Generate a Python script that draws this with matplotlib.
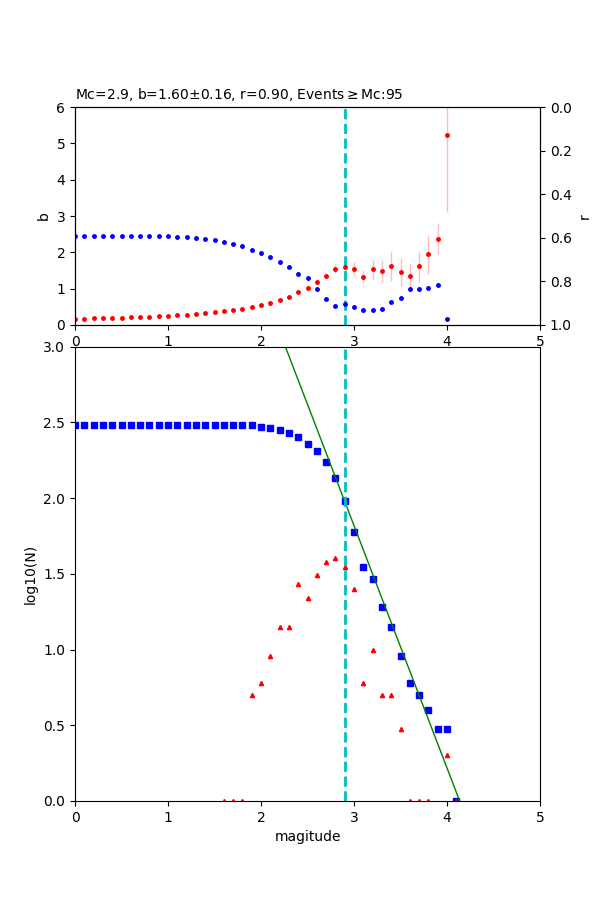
import numpy as np
import matplotlib
matplotlib.use("Agg")
import matplotlib.pyplot as plt

# magnitude bins used in the b / r scan (top panel)
mags_scan = [0.0, 0.1, 0.2, 0.3, 0.4, 0.5, 0.6, 0.7, 0.8, 0.9,
             1.0, 1.1, 1.2, 1.3, 1.4, 1.5, 1.6, 1.7, 1.8, 1.9,
             2.0, 2.1, 2.2, 2.3, 2.4, 2.5, 2.6, 2.7, 2.8, 2.9,
             3.0, 3.1, 3.2, 3.3, 3.4, 3.5, 3.6, 3.7, 3.8, 3.9, 4.0]

# b-value at each trial Mc
b_vals = [0.17, 0.17, 0.19, 0.19, 0.19, 0.19, 0.22, 0.22, 0.22, 0.25,
          0.25, 0.28, 0.28, 0.30, 0.33, 0.36, 0.39, 0.42, 0.44, 0.50,
          0.55, 0.61, 0.69, 0.78, 0.91, 1.02, 1.19, 1.36, 1.55, 1.60,
          1.54, 1.32, 1.54, 1.49, 1.61, 1.46, 1.36, 1.61, 1.94, 2.38, 5.24]

# uncertainty of b
b_err = [0.01, 0.01, 0.01, 0.01, 0.01, 0.01, 0.01, 0.01, 0.01, 0.01,
         0.01, 0.01, 0.01, 0.01, 0.01, 0.01, 0.01, 0.01, 0.01, 0.02,
         0.02, 0.02, 0.03, 0.03, 0.04, 0.05, 0.06, 0.08, 0.13, 0.16,
         0.18, 0.18, 0.27, 0.31, 0.40, 0.39, 0.34, 0.43, 0.54, 0.44, 2.12]

# goodness of fit r at each trial Mc
r_vals = [0.592, 0.592, 0.592, 0.592, 0.592, 0.592, 0.592, 0.592, 0.592, 0.592,
          0.592, 0.596, 0.596, 0.600, 0.606, 0.610, 0.619, 0.629, 0.638, 0.656,
          0.670, 0.689, 0.712, 0.735, 0.767, 0.786, 0.836, 0.882, 0.914, 0.905,
          0.918, 0.932, 0.932, 0.928, 0.895, 0.877, 0.835, 0.835, 0.831, 0.817, 0.974]

# frequency-magnitude distribution (bottom panel)
mags = [0.0, 0.1, 0.2, 0.3, 0.4, 0.5, 0.6, 0.7, 0.8, 0.9,
        1.0, 1.1, 1.2, 1.3, 1.4, 1.5, 1.6, 1.7, 1.8, 1.9,
        2.0, 2.1, 2.2, 2.3, 2.4, 2.5, 2.6, 2.7, 2.8, 2.9,
        3.0, 3.1, 3.2, 3.3, 3.4, 3.5, 3.6, 3.7, 3.8, 3.9, 4.0, 4.1]
counts = [0, 0, 0, 0, 0, 0, 0, 0, 0, 0,
          0, 0, 0, 0, 0, 0, 1, 1, 1, 5,
          6, 9, 14, 14, 27, 22, 31, 38, 40, 35,
          25, 6, 10, 5, 5, 3, 1, 1, 1, 0, 2, 1]

Mc = 2.9
b_mc = 1.60
b_mc_err = 0.16
r_mc = 0.90
a_val = 6.618

counts = np.array(counts, dtype=float)
cum = np.cumsum(counts[::-1])[::-1]
n_above = int(cum[mags.index(Mc)])

with np.errstate(divide="ignore"):
    log_cum = np.log10(cum)
    log_non = np.log10(counts)

fig = plt.figure(figsize=(6, 9), dpi=100)
ax1 = fig.add_axes([0.125, 0.639, 0.775, 0.242])
ax2 = fig.add_axes([0.125, 0.110, 0.775, 0.505])

# top panel: b-value and r vs trial Mc
ax1.errorbar(mags_scan, b_vals, yerr=b_err, fmt="o", color="r", ms=2.5,
             ecolor="#ffbcbc", elinewidth=1, capsize=0)
ax1.axvline(Mc, color="c", linestyle="--", linewidth=2)
ax1.set_xlim(0, 5)
ax1.set_ylim(0, 6)
ax1.set_ylabel("b")
ax1.set_title("Mc=%.1f, b=%.2f$\\pm$%.2f, r=%.2f, Events$\\geq$Mc:%d"
              % (Mc, b_mc, b_mc_err, r_mc, n_above), loc="left", fontsize=10)

ax1r = ax1.twinx()
ax1r.plot(mags_scan, r_vals, "o", color="b", ms=2.5)
ax1r.set_ylim(1, 0)
ax1r.set_ylabel("r")

# bottom panel: G-R relation
ax2.plot(mags, log_cum, "s", color="b", ms=3.8)
ax2.plot(mags, log_non, "^", color="r", ms=3)
fit_m = np.arange(0, 5.01, 0.1)
ax2.plot(fit_m, a_val - b_mc * fit_m, color="g", linewidth=1)
ax2.axvline(Mc, color="c", linestyle="--", linewidth=2)
ax2.set_xlim(0, 5)
ax2.set_ylim(0, 3)
ax2.set_xlabel("magitude")
ax2.set_ylabel("log10(N)")

fig.savefig("out.png", dpi=100)
